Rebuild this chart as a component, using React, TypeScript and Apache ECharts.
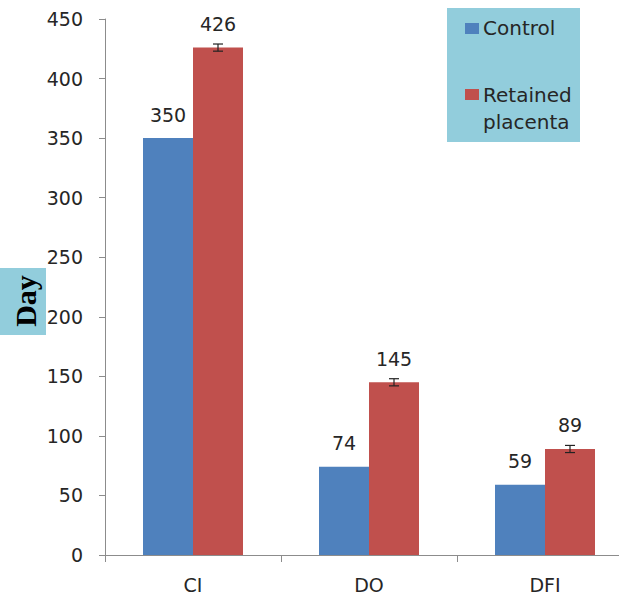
import React, { useEffect, useRef } from "react";
import * as echarts from "echarts";

const categories = ["CI", "DO", "DFI"];
const controlValues = [350, 74, 59];
const retainedValues = [426, 145, 89];
const retainedErrors = [3, 3, 3];
const seriesNames = ["Control", "Retained placenta"];
const yTicks = { min: 0, max: 450, interval: 50 };

const BLUE = "#4F81BD";
const RED = "#C0504D";
const BOX = "#92CDDC";
const FONT = "'DejaVu Sans', Verdana, sans-serif";

export default function App() {
  const ref = useRef<HTMLDivElement>(null);

  useEffect(() => {
    if (!ref.current) return;
    const chart = echarts.init(ref.current, undefined, { renderer: "svg" });
    const labelStyle = {
      show: true,
      position: "top" as const,
      distance: 14,
      fontSize: 19,
      fontFamily: FONT,
      color: "#262626",
    };
    chart.setOption({
      animation: false,
      backgroundColor: "#ffffff",
      grid: {
        left: 105,
        top: 19,
        width: 528,
        height: 536,
        containLabel: false,
        outerBoundsMode: "none",
      },
      xAxis: {
        type: "category",
        data: categories,
        axisLine: { lineStyle: { color: "#8c8c8c", width: 1 } },
        axisTick: { show: true, alignWithLabel: false, length: 7, lineStyle: { color: "#8c8c8c" } },
        axisLabel: { fontSize: 19, fontFamily: FONT, color: "#262626", margin: 20 },
      },
      yAxis: {
        type: "value",
        min: yTicks.min,
        max: yTicks.max,
        interval: yTicks.interval,
        axisLine: { show: true, lineStyle: { color: "#8c8c8c", width: 1 } },
        axisTick: { show: true, length: 6, lineStyle: { color: "#8c8c8c" } },
        splitLine: { show: false },
        axisLabel: { fontSize: 19, fontFamily: FONT, color: "#262626", margin: 22 },
      },
      series: [
        {
          name: seriesNames[0],
          type: "bar",
          data: controlValues,
          barWidth: 50,
          barGap: "0%",
          itemStyle: { color: BLUE },
          label: labelStyle,
        },
        {
          name: seriesNames[1],
          type: "bar",
          data: retainedValues,
          barWidth: 50,
          barGap: "0%",
          itemStyle: { color: RED },
          label: labelStyle,
        },
        {
          type: "custom",
          data: retainedValues.map((v, i) => [i, v, retainedErrors[i]]),
          z: 10,
          renderItem: (params: any, api: any) => {
            const i = api.value(0);
            const v = api.value(1);
            const e = api.value(2);
            const top = api.coord([i, v + e]);
            const bot = api.coord([i, v - e]);
            const x = top[0] + 25;
            const hw = 5;
            const style = { stroke: "#222222", lineWidth: 1.2 };
            return {
              type: "group",
              children: [
                { type: "line", shape: { x1: x, y1: top[1], x2: x, y2: bot[1] }, style },
                { type: "line", shape: { x1: x - hw, y1: top[1], x2: x + hw, y2: top[1] }, style },
                { type: "line", shape: { x1: x - hw, y1: bot[1], x2: x + hw, y2: bot[1] }, style },
              ],
            };
          },
        },
      ],
      graphic: [
        { type: "rect", shape: { x: 0, y: 268, width: 46, height: 67 }, style: { fill: BOX } },
        {
          type: "text",
          x: 25,
          y: 301,
          rotation: Math.PI / 2,
          style: {
            text: "Day",
            fontSize: 30,
            fontWeight: "bold",
            fontFamily: "'Liberation Serif', 'Times New Roman', serif",
            fill: "#000000",
            align: "center",
            verticalAlign: "middle",
          },
        },
        { type: "rect", shape: { x: 447, y: 8, width: 133, height: 134 }, style: { fill: BOX } },
        { type: "rect", shape: { x: 465, y: 23, width: 14, height: 11 }, style: { fill: BLUE } },
        {
          type: "text",
          x: 483,
          y: 28,
          style: { text: "Control", fontSize: 20, fontFamily: FONT, fill: "#262626", verticalAlign: "middle" },
        },
        { type: "rect", shape: { x: 465, y: 89, width: 14, height: 11 }, style: { fill: RED } },
        {
          type: "text",
          x: 483,
          y: 95,
          style: { text: "Retained", fontSize: 20, fontFamily: FONT, fill: "#262626", verticalAlign: "middle" },
        },
        {
          type: "text",
          x: 483,
          y: 122,
          style: { text: "placenta", fontSize: 20, fontFamily: FONT, fill: "#262626", verticalAlign: "middle" },
        },
      ],
    });
    return () => chart.dispose();
  }, []);

  return (
    <div
      ref={ref}
      style={{ position: "fixed", left: 0, top: 0, width: 619, height: 595 }}
    />
  );
}
